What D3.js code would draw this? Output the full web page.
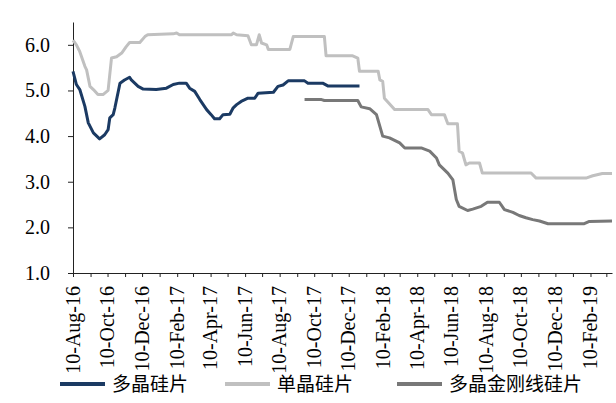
<!DOCTYPE html>
<html>
<head>
<meta charset="utf-8">
<script src="https://cdn.jsdelivr.net/npm/d3@7"></script>
<style>
  body { margin: 0; background: #fff; }
  svg text { font-family: "Liberation Serif", "Times New Roman", serif; fill: #000; }
  .legend text { font-family: "Liberation Serif", "Noto Sans CJK SC", serif; }
</style>
</head>
<body>
<div id="chart"></div>
<script>
// series names, as in the legend
const seriesNames = ["多晶硅片", "单晶硅片", "多晶金刚线硅片"];
const seriesColors = ["#1b3a63", "#c0c0c0", "#787878"];

// 多晶硅片 (date, price)
const polyData = [
  ["2016-08-10", 5.42], ["2016-08-16", 5.13], ["2016-08-22", 5.02], ["2016-08-31", 4.65],
  ["2016-09-06", 4.29], ["2016-09-15", 4.07], ["2016-09-26", 3.94], ["2016-10-05", 4.03],
  ["2016-10-11", 4.14], ["2016-10-14", 4.40], ["2016-10-20", 4.47], ["2016-10-23", 4.62],
  ["2016-11-01", 5.16], ["2016-11-09", 5.23], ["2016-11-18", 5.29], ["2016-11-21", 5.23],
  ["2016-12-03", 5.09], ["2016-12-12", 5.03], ["2017-01-04", 5.02], ["2017-01-22", 5.05],
  ["2017-02-03", 5.13], ["2017-02-14", 5.16], ["2017-02-26", 5.16], ["2017-03-04", 5.05],
  ["2017-03-13", 4.98], ["2017-03-22", 4.80], ["2017-04-03", 4.58], ["2017-04-11", 4.47],
  ["2017-04-17", 4.38], ["2017-04-26", 4.38], ["2017-05-02", 4.47], ["2017-05-14", 4.48],
  ["2017-05-20", 4.62], ["2017-05-26", 4.69], ["2017-06-03", 4.76], ["2017-06-15", 4.83],
  ["2017-06-27", 4.83], ["2017-07-03", 4.94], ["2017-07-30", 4.96], ["2017-08-07", 5.09],
  ["2017-08-16", 5.12], ["2017-08-25", 5.21], ["2017-09-23", 5.21], ["2017-09-29", 5.16],
  ["2017-10-25", 5.16], ["2017-11-03", 5.10], ["2017-12-29", 5.10]
];

// 单晶硅片
const monoData = [
  ["2016-08-10", 6.10], ["2016-08-16", 6.00], ["2016-08-22", 5.85], ["2016-08-31", 5.53],
  ["2016-09-03", 5.45], ["2016-09-09", 5.09], ["2016-09-15", 5.02], ["2016-09-23", 4.91],
  ["2016-10-02", 4.91], ["2016-10-11", 5.00], ["2016-10-17", 5.71], ["2016-10-26", 5.74],
  ["2016-11-04", 5.82], ["2016-11-12", 5.96], ["2016-11-18", 6.05], ["2016-12-06", 6.05],
  ["2016-12-15", 6.18], ["2016-12-20", 6.22], ["2017-02-03", 6.24], ["2017-02-09", 6.26],
  ["2017-02-14", 6.22], ["2017-05-17", 6.22], ["2017-05-20", 6.26], ["2017-05-26", 6.22],
  ["2017-06-15", 6.20], ["2017-06-21", 6.00], ["2017-06-30", 6.00], ["2017-07-05", 6.22],
  ["2017-07-09", 6.04], ["2017-07-18", 6.00], ["2017-07-21", 5.90], ["2017-08-28", 5.90],
  ["2017-09-03", 6.18], ["2017-10-28", 6.18], ["2017-10-31", 5.76], ["2017-12-17", 5.76],
  ["2017-12-26", 5.71], ["2017-12-29", 5.42], ["2018-01-31", 5.42], ["2018-02-03", 5.23],
  ["2018-02-08", 5.20], ["2018-02-11", 4.83], ["2018-03-01", 4.58], ["2018-04-29", 4.58],
  ["2018-05-05", 4.47], ["2018-05-28", 4.47], ["2018-06-03", 4.27], ["2018-06-20", 4.27],
  ["2018-06-23", 3.67], ["2018-06-29", 3.63], ["2018-07-05", 3.37], ["2018-07-11", 3.41],
  ["2018-07-29", 3.41], ["2018-08-03", 3.19], ["2018-10-28", 3.19], ["2018-11-06", 3.08],
  ["2019-02-02", 3.08], ["2019-02-14", 3.13], ["2019-03-03", 3.18], ["2019-03-20", 3.18]
];

// 多晶金刚线硅片
const diamondData = [
  ["2017-09-23", 4.80], ["2017-10-23", 4.80], ["2017-10-28", 4.78], ["2017-12-26", 4.78],
  ["2018-01-01", 4.64], ["2018-01-16", 4.60], ["2018-01-28", 4.47], ["2018-02-08", 4.00],
  ["2018-02-20", 3.96], ["2018-03-10", 3.85], ["2018-03-19", 3.74], ["2018-04-17", 3.74],
  ["2018-05-02", 3.67], ["2018-05-14", 3.52], ["2018-05-19", 3.37], ["2018-06-03", 3.19],
  ["2018-06-12", 3.04], ["2018-06-18", 2.61], ["2018-06-23", 2.46], ["2018-07-08", 2.37],
  ["2018-07-17", 2.40], ["2018-08-01", 2.46], ["2018-08-12", 2.55], ["2018-09-02", 2.55],
  ["2018-09-11", 2.39], ["2018-09-26", 2.33], ["2018-10-07", 2.26], ["2018-10-19", 2.21],
  ["2018-10-31", 2.17], ["2018-11-12", 2.14], ["2018-11-27", 2.08], ["2019-01-30", 2.08],
  ["2019-02-08", 2.13], ["2019-03-20", 2.14]
];

const yTicks = [1, 2, 3, 4, 5, 6];
const xStart = "2016-08-10", xEnd = "2019-03-20";

const parse = d3.utcParse("%Y-%m-%d");
const fmt = d3.utcFormat("%d-%b-%y");

const width = 616, height = 403;
const margin = { top: 22, right: 4, bottom: 130, left: 73 };

const svg = d3.select("#chart").append("svg")
  .attr("width", width).attr("height", height);

const x = d3.scaleUtc()
  .domain([parse(xStart), parse(xEnd)])
  .range([margin.left, width - margin.right]);
const y = d3.scaleLinear().domain([1, 6.5]).range([height - margin.bottom, margin.top]);

// monthly ticks on the 10th, labels every other month
const monthTicks = d3.utcMonth.range(d3.utcMonth.floor(parse(xStart)), parse(xEnd))
  .map(d => d3.utcDay.offset(d, 9))
  .filter(d => d >= parse(xStart) && d <= parse(xEnd));

const xAxis = svg.append("g")
  .attr("transform", "translate(0," + (height - margin.bottom) + ")")
  .call(d3.axisBottom(x).tickValues(monthTicks).tickSize(4).tickSizeOuter(0)
    .tickFormat((d, i) => i % 2 === 0 ? fmt(d) : ""));
xAxis.select(".domain").attr("stroke", "#222");
xAxis.selectAll(".tick line").attr("stroke", "#222");
xAxis.selectAll("text")
  .attr("font-size", 20)
  .attr("transform", "rotate(-90)")
  .attr("text-anchor", "end")
  .attr("x", -13)
  .attr("y", 0)
  .attr("dy", "0.3em");

const yAxis = svg.append("g")
  .attr("transform", "translate(" + margin.left + ",0)")
  .call(d3.axisLeft(y).tickValues(yTicks).tickSize(5).tickSizeOuter(0)
    .tickFormat(d3.format(".1f")));
yAxis.select(".domain").attr("stroke", "#222");
yAxis.selectAll(".tick line").attr("stroke", "#222");
yAxis.selectAll("text").attr("font-size", 20).attr("x", -23);

const line = d3.line()
  .x(d => x(parse(d[0])))
  .y(d => y(d[1]));

[monoData, diamondData, polyData].forEach((data, i) => {
  const idx = [1, 2, 0][i];
  svg.append("path")
    .datum(data)
    .attr("fill", "none")
    .attr("stroke", seriesColors[idx])
    .attr("stroke-width", 3)
    .attr("stroke-linejoin", "round")
    .attr("d", line);
});

// legend
const legendX = [60, 225, 397];
const legend = svg.append("g").attr("class", "legend");
seriesNames.forEach((name, i) => {
  const g = legend.append("g").attr("transform", "translate(" + legendX[i] + ",384)");
  g.append("line").attr("x1", 0).attr("x2", 45)
    .attr("stroke", seriesColors[i]).attr("stroke-width", 4);
  g.append("text").attr("x", 52).attr("dy", "0.35em")
    .attr("font-size", 19).text(name);
});
</script>
</body>
</html>
